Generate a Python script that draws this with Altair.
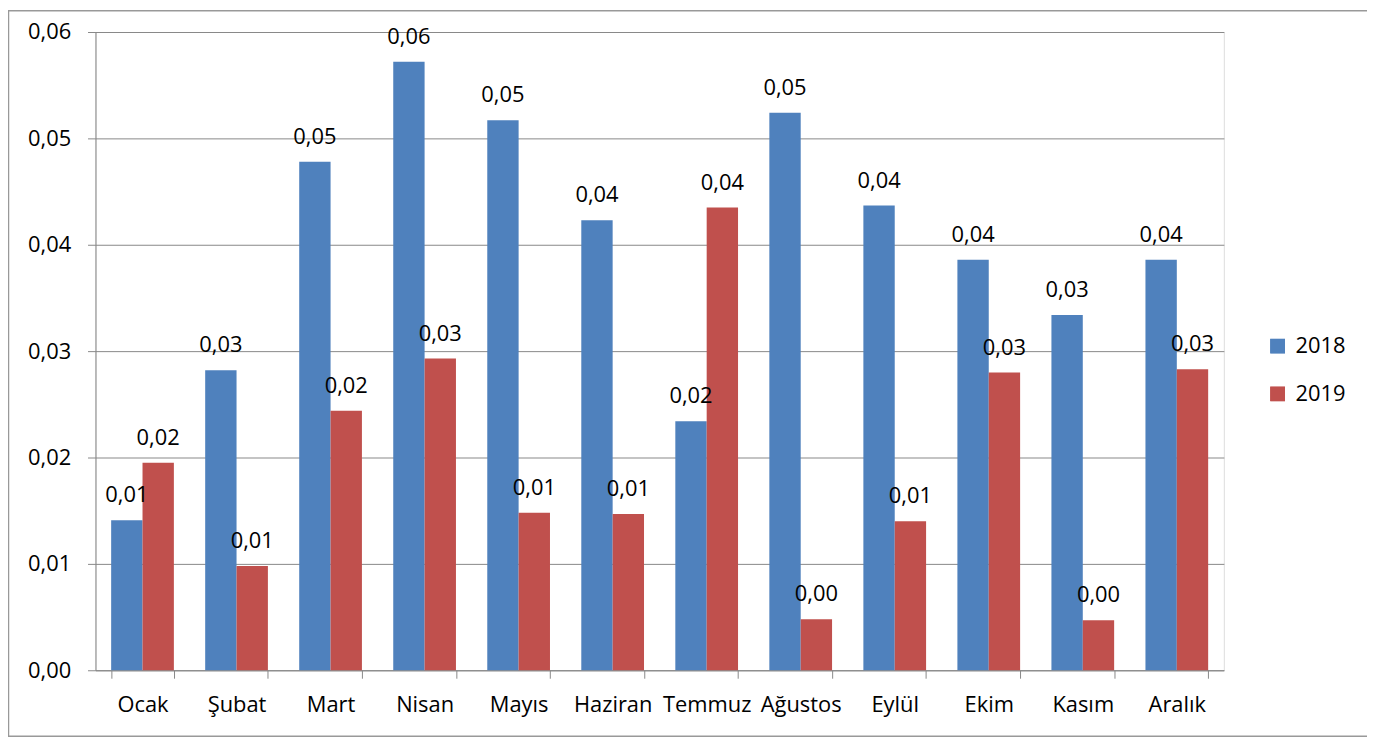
import altair as alt
import pandas as pd

months = ["Ocak", "Şubat", "Mart", "Nisan", "Mayıs", "Haziran", "Temmuz",
          "Ağustos", "Eylül", "Ekim", "Kasım", "Aralık"]
v2018 = [0.0141, 0.0282, 0.0478, 0.0572, 0.0517, 0.0423, 0.0234, 0.0524,
         0.0437, 0.0386, 0.0334, 0.0386]
v2019 = [0.0195, 0.0098, 0.0244, 0.0293, 0.0148, 0.0147, 0.0435, 0.0048,
         0.0140, 0.0280, 0.0047, 0.0283]
years = ["2018", "2019"]
colors = ["#4F81BD", "#C0504D"]

rows = []
for i, m in enumerate(months):
    rows.append({"month": m, "year": "2018", "value": v2018[i]})
    rows.append({"month": m, "year": "2019", "value": v2019[i]})
df = pd.DataFrame(rows)

FONT = "Open Sans"
GRID = "#888888"

W, H = 1135, 642

x = alt.X("month:N", sort=months, title=None,
          scale=alt.Scale(paddingInner=0.333, paddingOuter=0.1667),
          axis=alt.Axis(labelAngle=0, tickBand="extent", tickSize=8,
                        tickColor=GRID, domainColor=GRID, labelPadding=16,
                        labelFontSize=22, labelFont=FONT, labelColor="#000000"))
xoff = alt.XOffset("year:N", sort=years,
                   scale=alt.Scale(paddingInner=0, paddingOuter=0))
y = alt.Y("value:Q", title=None,
          scale=alt.Scale(domain=[0, 0.06], nice=False),
          axis=alt.Axis(values=[0, 0.01, 0.02, 0.03, 0.04, 0.05, 0.06],
                        labelExpr="replace(format(datum.value, '.2f'), '.', ',')",
                        tickSize=8, tickColor=GRID, domainColor=GRID,
                        gridColor=GRID, grid=True, labelPadding=17,
                        labelFontSize=22, labelFont=FONT, labelColor="#000000"))
color = alt.Color("year:N", sort=years,
                  scale=alt.Scale(domain=years, range=colors),
                  legend=alt.Legend(title=None, orient="none", legendX=1178,
                                    legendY=305, symbolType="square",
                                    symbolSize=225, symbolStrokeWidth=0,
                                    labelFontSize=22, labelFont=FONT,
                                    labelColor="#000000", rowPadding=26,
                                    labelOffset=7, padding=0))

base = alt.Chart(df).encode(x=x, xOffset=xoff, y=y)

bars = base.mark_bar().encode(color=color)
labels = base.transform_calculate(
    label="replace(format(datum.value, '.2f'), '.', ',')"
).mark_text(baseline="alphabetic", dy=-18, font=FONT, fontSize=22,
            color="#000000").encode(text="label:N")

frame = alt.Chart(pd.DataFrame({"f": [0]})).mark_rect(
    fill=None, stroke="#999999", strokeWidth=1.5
).encode(x=alt.value(-87.5), x2=alt.value(1282), y=alt.value(-21.5),
         y2=alt.value(708.5))

chart = alt.layer(frame, bars, labels).properties(
    width=W, height=H,
    autosize=alt.AutoSizeParams(type="none"),
    padding={"left": 88, "top": 22, "right": 144, "bottom": 68},
).configure_view(stroke=None).configure(background="white")

chart.save("out.html", embed_options={"renderer": "svg", "actions": False})
